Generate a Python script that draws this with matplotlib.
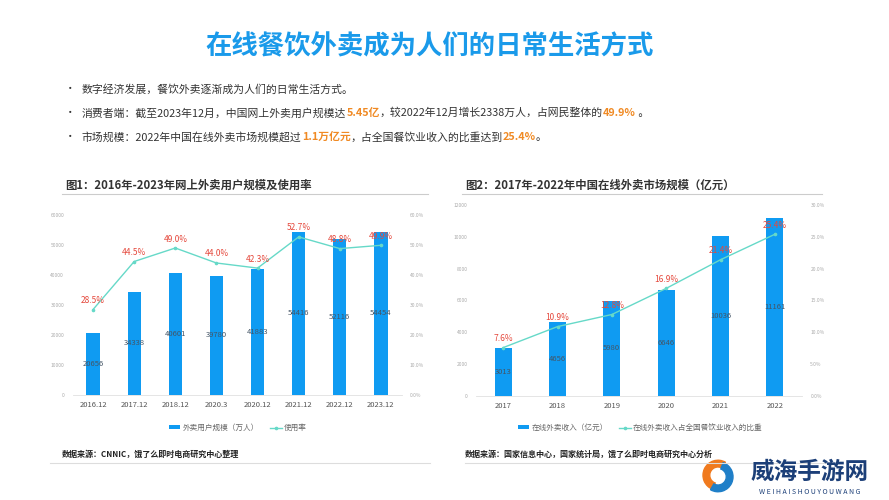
import matplotlib
matplotlib.use("Agg")
import matplotlib.pyplot as plt
import matplotlib.patches as patches
import numpy as np

plt.rcParams['font.family'] = ['Noto Sans CJK SC', 'DejaVu Sans']

# ─── Data ─────────────────────────────────────────────────────────────────────

users_cats = ["2016.12", "2017.12", "2018.12", "2020.3", "2020.12", "2021.12", "2022.12", "2023.12"]
users_vals = [20656, 34338, 40601, 39780, 41883, 54416, 52116, 54454]
users_rate = [28.5, 44.5, 49.0, 44.0, 42.3, 52.7, 48.8, 49.9]

market_cats = ["2017", "2018", "2019", "2020", "2021", "2022"]
market_vals = [3013, 4656, 5980, 6646, 10036, 11161]
market_share = [7.6, 10.9, 12.8, 16.9, 21.4, 25.4]

BLUE = "#0F9BF2"
TEAL = "#66D9C8"
RED = "#E5483C"
ORANGE = "#F08A24"
W, H = 889, 500


def box(x, y, w, h):
    # pixel box (top-left origin) -> figure fraction
    return [x / W, 1 - (y + h) / H, w / W, h / H]


fig = plt.figure(figsize=(W / 100, H / 100), dpi=100)
fig.patch.set_facecolor("white")

# ─── Header text ──────────────────────────────────────────────────────────────

fig.text(430 / W, 1 - 47 / H, "在线餐饮外卖成为人们的日常生活方式", ha="center", va="center",
         fontsize=19, fontweight="bold", color="#1A9AEA")

bullets = [
    [("数字经济发展，餐饮外卖逐渐成为人们的日常生活方式。", "#333333")],
    [("消费者端：截至2023年12月，中国网上外卖用户规模达", "#333333"), ("5.45亿", ORANGE),
     ("，较2022年12月增长2338万人，占网民整体的", "#333333"), ("49.9%", ORANGE), (" 。", "#333333")],
    [("市场规模：2022年中国在线外卖市场规模超过", "#333333"), ("1.1万亿元", ORANGE),
     ("，占全国餐饮业收入的比重达到", "#333333"), ("25.4%", ORANGE), ("。", "#333333")],
]
renderer = fig.canvas.get_renderer()
for i, parts in enumerate(bullets):
    y = 1 - (89 + i * 24) / H
    fig.text(70 / W, y, "•", ha="center", va="center", fontsize=7.5, color="#333333")
    x = 82 / W
    for txt, col in parts:
        t = fig.text(x, y, txt, ha="left", va="center", fontsize=7.8, color=col,
                     fontweight="bold" if col == ORANGE else "normal")
        bb = t.get_window_extent(renderer=renderer)
        x += bb.width / W

# ─── Chart headings ───────────────────────────────────────────────────────────

fig.text(65 / W, 1 - 185 / H, "图1：2016年-2023年网上外卖用户规模及使用率", ha="left", va="center",
         fontsize=8.2, fontweight="bold", color="#333333")
fig.text(465 / W, 1 - 185 / H, "图2：2017年-2022年中国在线外卖市场规模（亿元）", ha="left", va="center",
         fontsize=8.2, fontweight="bold", color="#333333")
fig.add_artist(plt.Line2D([62 / W, 428 / W], [1 - 194 / H] * 2, color="#CCCCCC", lw=0.8))
fig.add_artist(plt.Line2D([462 / W, 822 / W], [1 - 194 / H] * 2, color="#CCCCCC", lw=0.8))


def combo(rect, cats, vals, pcts, ymax, ystep, pmax, pstep, bar_label, line_label, width):
    ax = fig.add_axes(rect)
    x = np.arange(len(cats))
    ax.bar(x, vals, width=width, color=BLUE, zorder=2, label=bar_label)
    for xi, v in zip(x, vals):
        ax.text(xi, v / 2, str(v), ha="center", va="center", fontsize=5.5, color="#445566", zorder=4)
    ax.set_ylim(0, ymax)
    ax.set_xlim(-0.5, len(cats) - 0.5)
    ax.set_yticks(np.arange(0, ymax + 1, ystep))
    ax.tick_params(axis="y", labelsize=3.5, labelcolor="#AAAAAA", length=0, pad=6)
    ax.tick_params(axis="x", labelsize=5.5, labelcolor="#555555", length=0, pad=4)
    ax.set_xticks(x)
    ax.set_xticklabels(cats)
    for s in ["top", "right", "left"]:
        ax.spines[s].set_visible(False)
    ax.spines["bottom"].set_color("#E0E0E0")
    ax.spines["bottom"].set_linewidth(0.6)

    ax2 = ax.twinx()
    ax2.plot(x, pcts, color=TEAL, lw=1.0, marker="o", ms=1.6, zorder=3, label=line_label)
    for xi, p in zip(x, pcts):
        ax2.text(xi, p + pmax * 0.025, f"{p:.1f}%", ha="center", va="bottom", fontsize=6, color=RED, zorder=5)
    ax2.set_ylim(0, pmax)
    ax2.set_yticks(np.arange(0, pmax + 0.01, pstep))
    ax2.set_yticklabels([f"{t:.1f}%" for t in np.arange(0, pmax + 0.01, pstep)])
    ax2.tick_params(axis="y", labelsize=3.5, labelcolor="#AAAAAA", length=0, pad=6)
    for s in ["top", "right", "left", "bottom"]:
        ax2.spines[s].set_visible(False)
    return ax, ax2


ax1, ax1b = combo(box(72.5, 215, 329, 180), users_cats, users_vals, users_rate,
                  60000, 10000, 60, 10, "外卖用户规模（万人）", "使用率", 0.32)
ax2, ax2b = combo(box(476, 205, 326, 191), market_cats, market_vals, market_share,
                  12000, 2000, 30, 5, "在线外卖收入（亿元）", "在线外卖收入占全国餐饮业收入的比重", 0.31)

for a, b, cx in [(ax1, ax1b, 238), (ax2, ax2b, 640)]:
    h1, l1 = a.get_legend_handles_labels()
    h2, l2 = b.get_legend_handles_labels()
    fig.legend(h1 + h2, l1 + l2, loc="center", bbox_to_anchor=(cx / W, 1 - 428 / H), ncol=2,
               frameon=False, fontsize=5.5, labelcolor="#666666", handlelength=1.5,
               handleheight=0.5, columnspacing=1.5, handletextpad=0.3)

# ─── Sources ──────────────────────────────────────────────────────────────────

fig.text(62 / W, 1 - 454 / H, "数据来源：CNNIC，饿了么即时电商研究中心整理", ha="left", va="center",
         fontsize=5.8, fontweight="bold", style="italic", color="#222222")
fig.text(465 / W, 1 - 454 / H, "数据来源：国家信息中心，国家统计局，饿了么即时电商研究中心分析", ha="left", va="center",
         fontsize=5.8, fontweight="bold", style="italic", color="#222222")
fig.add_artist(plt.Line2D([50 / W, 430 / W], [1 - 463 / H] * 2, color="#DDDDDD", lw=0.8))
fig.add_artist(plt.Line2D([465 / W, 830 / W], [1 - 463 / H] * 2, color="#DDDDDD", lw=0.8))

# ─── Watermark ────────────────────────────────────────────────────────────────

lax = fig.add_axes(box(700, 455, 36, 42))
lax.set_xlim(-1.2, 1.2)
lax.set_ylim(-1.2, 1.2)
lax.set_aspect("equal")
lax.axis("off")
lax.add_patch(patches.Wedge((0, 0.05), 1.0, 60, 250, width=0.45, color="#F07A1E"))
lax.add_patch(patches.Wedge((0, -0.05), 1.0, 240, 430, width=0.45, color="#1F7FC8"))
fig.text(810 / W, 1 - 472 / H, "威海手游网", ha="center", va="center", fontsize=17,
         fontweight="bold", color="#1C3F78")
fig.text(810 / W, 1 - 492 / H, "W E I H A I S H O U Y O U W A N G", ha="center", va="center",
         fontsize=5, color="#1C3F78")

fig.savefig("out.png", dpi=100, facecolor="white")
